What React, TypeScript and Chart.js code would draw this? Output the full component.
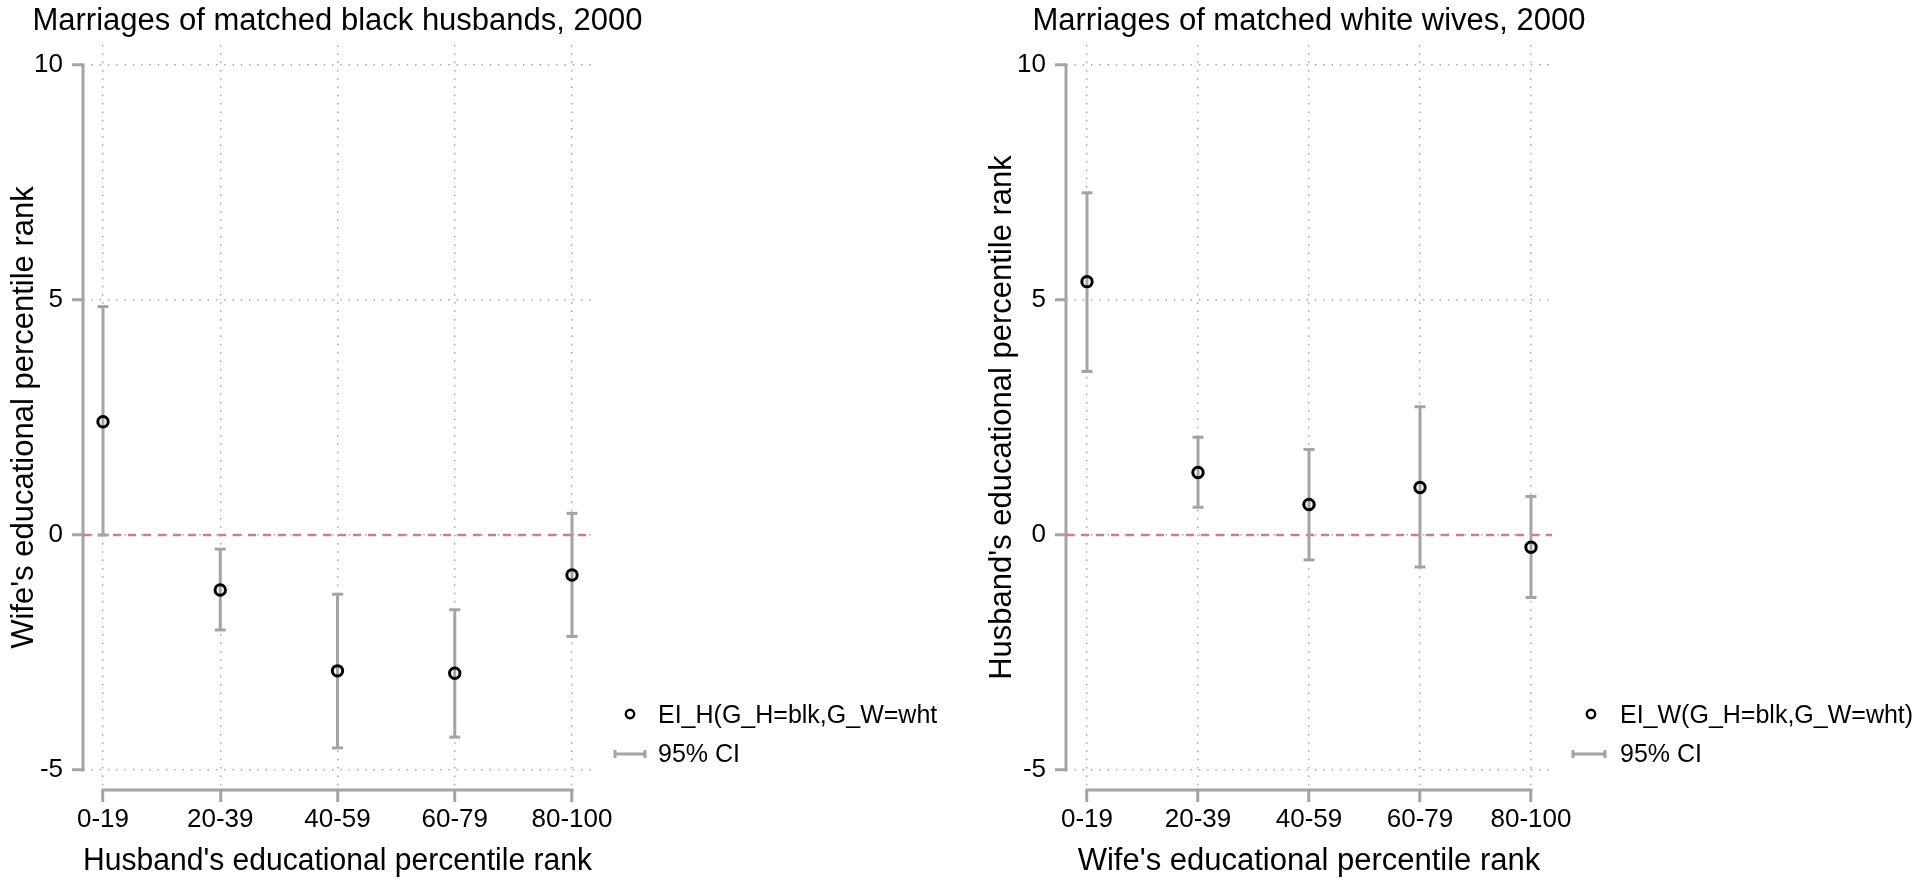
import React, { useEffect, useRef } from 'react';
import { Chart, registerables } from 'chart.js';

Chart.register(...registerables);

// ---------------- data ----------------
const categories = ['0-19', '20-39', '40-59', '60-79', '80-100'];
const yTicks = [-5, 0, 5, 10];

// Left panel: matched black husbands
const husbandEst = [2.41, -1.17, -2.89, -2.94, -0.85];
const husbandLo = [0.0, -2.02, -4.53, -4.3, -2.16];
const husbandHi = [4.86, -0.3, -1.26, -1.59, 0.46];

// Right panel: matched white wives
const wifeEst = [5.39, 1.33, 0.65, 1.01, -0.26];
const wifeLo = [3.48, 0.59, -0.53, -0.68, -1.33];
const wifeHi = [7.28, 2.08, 1.82, 2.73, 0.82];

const leftTitle = 'Marriages of matched black husbands, 2000';
const leftXTitle = "Husband's educational percentile rank";
const leftYTitle = "Wife's educational percentile rank";
const leftLegend = 'EI_H(G_H=blk,G_W=wht)';

const rightTitle = 'Marriages of matched white wives, 2000';
const rightXTitle = "Wife's educational percentile rank";
const rightYTitle = "Husband's educational percentile rank";
const rightLegend = 'EI_W(G_H=blk,G_W=wht)';

const ciLegend = '95% CI';

// ---------------- style ----------------
const FONT = '"Liberation Sans", Arial, Helvetica, sans-serif';
const GRAY = '#a4a4a4';
const GRID = '#a8a8a8';
const PINK = '#cc79a7';

type Panel = {
  title: string;
  xTitle: string;
  yTitle: string;
  legend: string;
  est: number[];
  lo: number[];
  hi: number[];
  width: number;
  yAxisWidth: number;
  yTitlePad: number;
  xMin: number;
  xMax: number;
  legendMarkerDx: number;
  legendTextDx: number;
  legendCiX0: number;
  legendCiX1: number;
};

const Y_MIN = -5.4255;
const Y_MAX = 10.4255;

const stataPlugin = {
  id: 'stata',
  beforeDatasetsDraw(chart: any) {
    const { ctx, chartArea } = chart;
    const xs = chart.scales.x;
    const ys = chart.scales.y;
    ctx.save();
    ctx.strokeStyle = GRAY;
    ctx.lineWidth = 3;
    ctx.beginPath();
    ctx.moveTo(chartArea.left, ys.getPixelForValue(yTicks[yTicks.length - 1]) - 1.5);
    ctx.lineTo(chartArea.left, ys.getPixelForValue(yTicks[0]) + 1.5);
    ctx.moveTo(xs.getPixelForValue(0) - 1.5, chartArea.bottom);
    ctx.lineTo(xs.getPixelForValue(categories.length - 1) + 1.5, chartArea.bottom);
    ctx.stroke();
    ctx.restore();
  },
  afterDraw(chart: any, _args: any, opts: any) {
    const { ctx, chartArea } = chart;
    const r = chartArea.right;
    const row1 = chartArea.bottom - 76;
    const row2 = chartArea.bottom - 36;
    ctx.save();
    // title, centred on the plot region
    ctx.fillStyle = '#000';
    ctx.font = `31px ${FONT}`;
    ctx.textAlign = 'center';
    ctx.textBaseline = 'middle';
    ctx.fillText(opts.title, (chartArea.left + chartArea.right) / 2, chartArea.top - 24);
    // marker
    ctx.beginPath();
    ctx.arc(r + opts.markerDx, row1, 4.2, 0, Math.PI * 2);
    ctx.lineWidth = 2.4;
    ctx.strokeStyle = '#000';
    ctx.stroke();
    // CI symbol
    ctx.strokeStyle = GRAY;
    ctx.lineWidth = 3;
    ctx.beginPath();
    ctx.moveTo(r + opts.ciX0, row2);
    ctx.lineTo(r + opts.ciX1, row2);
    ctx.moveTo(r + opts.ciX0, row2 - 4);
    ctx.lineTo(r + opts.ciX0, row2 + 4);
    ctx.moveTo(r + opts.ciX1, row2 - 4);
    ctx.lineTo(r + opts.ciX1, row2 + 4);
    ctx.stroke();
    // text
    ctx.fillStyle = '#000';
    ctx.font = `25px ${FONT}`;
    ctx.textAlign = 'left';
    ctx.textBaseline = 'middle';
    ctx.fillText(opts.label, r + opts.textDx, row1 + 2.5);
    ctx.fillText(ciLegend, r + opts.textDx, row2 + 1);
    ctx.restore();
  },
};

function makeConfig(p: Panel): any {
  const ciData: any[] = [];
  p.lo.forEach((lo, i) => {
    ciData.push({ x: i, y: lo });
    ciData.push({ x: i, y: p.hi[i] });
    ciData.push({ x: i, y: null });
  });
  const pointData = p.est.map((y, i) => ({ x: i, y }));
  const zeroData = [
    { x: p.xMin, y: 0 },
    { x: p.xMax, y: 0 },
  ];
  return {
    type: 'line',
    data: {
      datasets: [
        {
          label: 'zero',
          data: zeroData,
          borderColor: PINK,
          borderWidth: 2.5,
          borderDash: [8, 7],
          pointRadius: 0,
          order: 3,
        },
        {
          label: ciLegend,
          data: ciData,
          borderColor: GRAY,
          borderWidth: 3,
          spanGaps: false,
          pointStyle: 'line',
          pointRadius: 5.5,
          pointBorderWidth: 3,
          pointBorderColor: GRAY,
          pointBackgroundColor: GRAY,
          order: 2,
        },
        {
          label: p.legend,
          data: pointData,
          showLine: false,
          pointStyle: 'circle',
          pointRadius: 5.2,
          pointBorderWidth: 3,
          pointBorderColor: '#000',
          pointBackgroundColor: 'rgba(0,0,0,0)',
          order: 1,
        },
      ],
    },
    options: {
      responsive: false,
      animation: false,
      events: [],
      layout: { padding: { left: 0, top: 45, bottom: 0, right: p.width - 592 } },
      plugins: {
        legend: { display: false },
        tooltip: { enabled: false },
        title: { display: false },
        stata: {
          title: p.title,
          label: p.legend,
          markerDx: p.legendMarkerDx,
          textDx: p.legendTextDx,
          ciX0: p.legendCiX0,
          ciX1: p.legendCiX1,
        },
      },
      scales: {
        x: {
          type: 'linear',
          min: p.xMin,
          max: p.xMax,
          afterBuildTicks: (scale: any) => {
            scale.ticks = categories.map((_c, i) => ({ value: i }));
          },
          afterFit: (scale: any) => {
            scale.height = 98;
          },
          ticks: {
            autoSkip: false,
            maxRotation: 0,
            color: '#000',
            padding: 2.4,
            font: { family: FONT, size: 26 },
            callback: (v: any) => categories[v] ?? '',
          },
          grid: {
            color: GRID,
            lineWidth: 1.5,
            drawTicks: true,
            tickLength: 12,
            tickWidth: 3,
            tickColor: GRAY,
            tickBorderDash: [],
          },
          border: { display: false, dash: [1.5, 6.8] },
          title: {
            display: true,
            text: p.xTitle,
            color: '#000',
            font: { family: FONT, size: 31 },
            padding: { top: 0, bottom: 8.4 },
          },
        },
        y: {
          type: 'linear',
          min: Y_MIN,
          max: Y_MAX,
          afterBuildTicks: (scale: any) => {
            scale.ticks = yTicks.map((v) => ({ value: v }));
          },
          afterFit: (scale: any) => {
            scale.width = p.yAxisWidth;
          },
          ticks: {
            color: '#000',
            padding: 9,
            font: { family: FONT, size: 26 },
          },
          grid: {
            color: GRID,
            lineWidth: 1.5,
            drawTicks: true,
            tickLength: 11,
            tickWidth: 3,
            tickColor: GRAY,
            tickBorderDash: [],
          },
          border: { display: false, dash: [1.5, 6.8] },
          title: {
            display: true,
            text: p.yTitle,
            color: '#000',
            font: { family: FONT, size: 31 },
            padding: { top: p.yTitlePad, bottom: 0 },
          },
        },
      },
    },
    plugins: [stataPlugin],
  };
}

const leftPanel: Panel = {
  title: leftTitle,
  xTitle: leftXTitle,
  yTitle: leftYTitle,
  legend: leftLegend,
  est: husbandEst,
  lo: husbandLo,
  hi: husbandHi,
  width: 938,
  yAxisWidth: 83,
  yTitlePad: 5.4,
  xMin: -20 / 117.25,
  xMax: 4 + 20 / 117.25,
  legendMarkerDx: 38,
  legendTextDx: 66,
  legendCiX0: 23,
  legendCiX1: 53,
};

const rightPanel: Panel = {
  title: rightTitle,
  xTitle: rightXTitle,
  yTitle: rightYTitle,
  legend: rightLegend,
  est: wifeEst,
  lo: wifeLo,
  hi: wifeHi,
  width: 960,
  yAxisWidth: 106,
  yTitlePad: 23.4,
  xMin: -21 / 111,
  xMax: 4 + 21 / 111,
  legendMarkerDx: 39,
  legendTextDx: 68,
  legendCiX0: 21,
  legendCiX1: 53,
};

function PanelChart({ panel, left }: { panel: Panel; left: number }) {
  const ref = useRef<HTMLCanvasElement | null>(null);
  useEffect(() => {
    if (!ref.current) return;
    const chart = new Chart(ref.current, makeConfig(panel));
    return () => chart.destroy();
  }, [panel]);
  return (
    <canvas
      ref={ref}
      width={panel.width}
      height={888}
      style={{ position: 'absolute', left, top: 0, width: panel.width, height: 888 }}
    />
  );
}

export default function App() {
  return (
    <div
      style={{
        position: 'absolute',
        left: 0,
        top: 0,
        width: 1920,
        height: 888,
        background: '#fff',
        overflow: 'hidden',
      }}
    >
      <PanelChart panel={leftPanel} left={0} />
      <PanelChart panel={rightPanel} left={960} />
    </div>
  );
}
